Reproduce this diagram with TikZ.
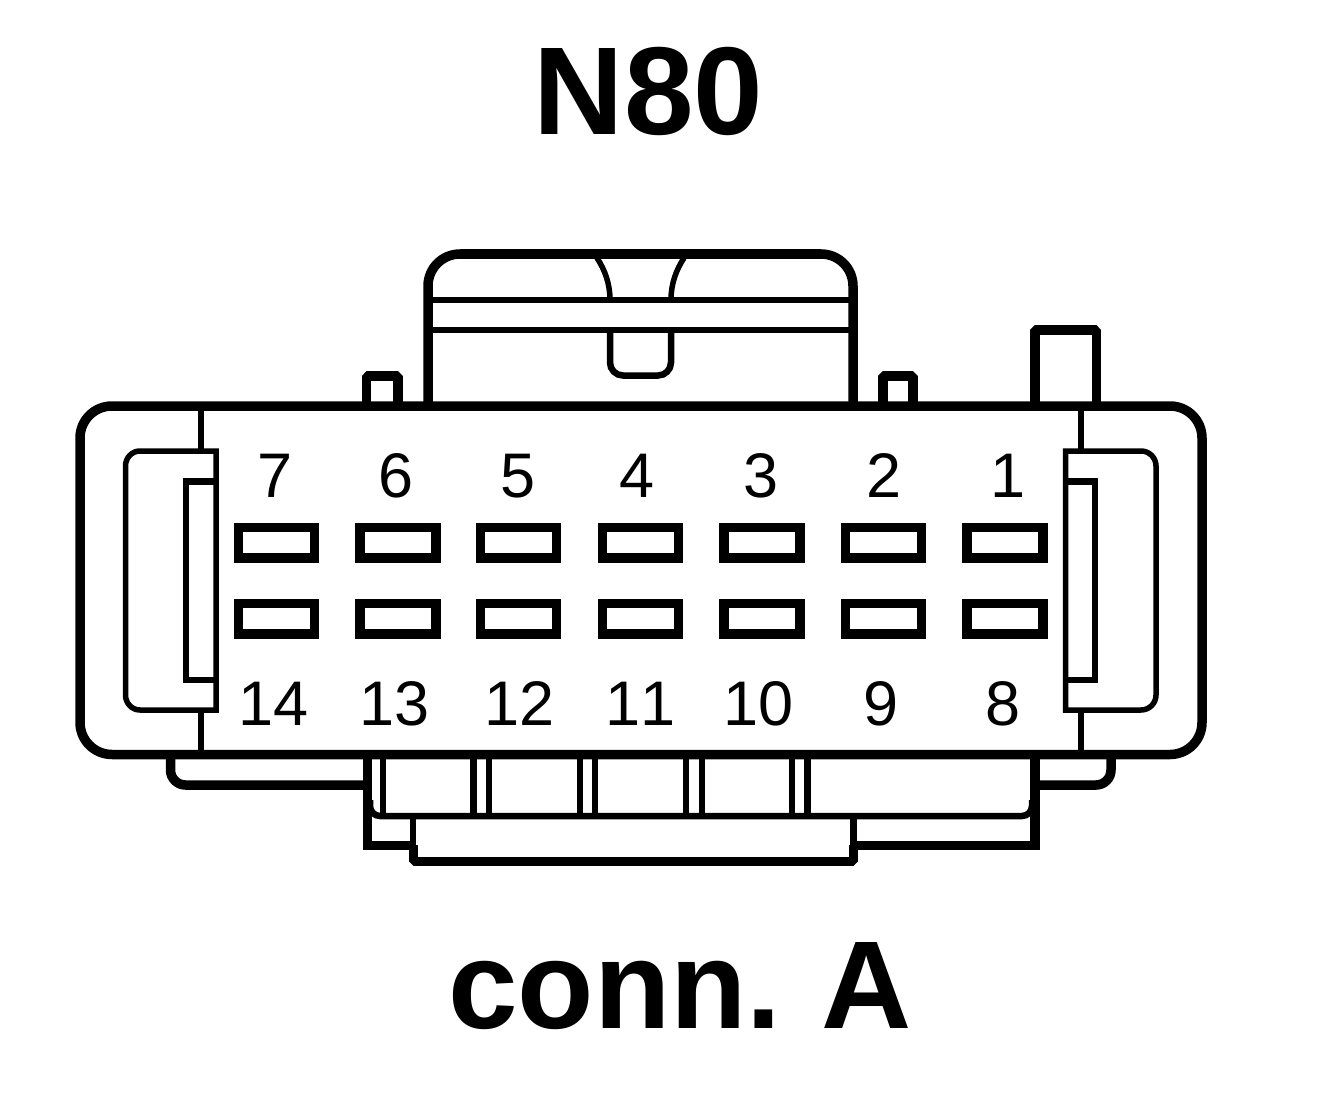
\documentclass[tikz,border=0pt]{standalone}
\usepackage{fontspec}
\setmainfont[Kerning=Off]{Liberation Sans}
\tikzset{
	heavy/.style={draw=black, line width=9.5pt},
	medium/.style={draw=black, line width=6.5pt},
	light/.style={draw=black, line width=5.5pt},
	pinbox/.style={rectangle, draw=black, line width=9.5pt, fill=white, inner sep=0pt, outer sep=0pt, minimum height=30.5pt, minimum width=76pt},
	pinlabel/.style={inner sep=0pt, anchor=base, font=\fontsize{63}{63}\selectfont},
	caption/.style={inner sep=0pt, anchor=base, font=\bfseries\fontsize{125}{125}\selectfont}
}
\begin{document}
\begin{tikzpicture}[x=1pt, y=-1pt]

\useasboundingbox (0,0) rectangle (1344,1118);

\node at (648.5,135) [caption] (title) {N80};
\node at (680,1028) [caption] (conn) {conn.\ \kern5pt A};

%% handle on top
\draw[heavy, rounded corners=32pt] (428,406) -- (428,254) -- (853,254) -- (853,406);
\draw[medium] (428,300) -- (853,300);
\draw[medium] (428,330) -- (853,330);
\draw[light] (597,258) .. controls (605,270) and (610,284) .. (610,300);
\draw[light] (684,258) .. controls (676,270) and (671,284) .. (671,300);
\draw[medium, rounded corners=13pt] (610,330) -- (610,375.5) -- (671,375.5) -- (671,330);

%% small tabs and post
\draw[heavy, line join=bevel] (366.5,406) -- (366.5,376) -- (398,376) -- (398,406);
\draw[heavy, line join=bevel] (883,406) -- (883,376) -- (913,376) -- (913,406);
\draw[heavy, line join=bevel] (1035,406) -- (1035,330) -- (1096.5,330) -- (1096.5,406);

%% body
\node at (80,406) [rectangle, heavy, rounded corners=32pt, minimum width=1122pt, minimum height=348.5pt, inner sep=0pt, outer sep=0pt, anchor=north west] (body) {};
\draw[light] (201,406) -- (201,451);
\draw[light] (201,710) -- (201,754);
\draw[light] (1081,406) -- (1081,451);
\draw[light] (1081,710) -- (1081,754);

%% latches
\draw[light] (216,451) -- (140,451) to[out=180, in=90] (125.5,466) -- (125.5,695) to[out=-90, in=180] (140,710) -- (216,710) -- cycle;
\draw[medium] (216,481.5) -- (186,481.5) -- (186,680) -- (216,680);
\draw[light] (1065.5,451) -- (1141,451) to[out=0, in=90] (1156,466) -- (1156,695) to[out=-90, in=0] (1141,710) -- (1065.5,710) -- cycle;
\draw[medium] (1065.5,481.5) -- (1095,481.5) -- (1095,680) -- (1065.5,680);

%% pins
\foreach \num/\xpos/\xtop/\xlow/\lab in {7/276.5/275/274/14, 6/398/396/395/13, 5/518.5/518/520/12, 4/640.5/637/641/11, 3/762/761/759/10, 2/883.5/884/881/9, 1/1005/1008/1003/8} {
	\node at (\xpos,542.5) [pinbox] (pinup\num) {};
	\node at (\xpos,618.5) [pinbox] (pindown\num) {};
	\node at (\xtop,497) [pinlabel] (labelup\num) {\num};
	\node at (\xlow,725) [pinlabel] (labeldown\num) {\lab};
}

%% lower part
\draw[heavy, rounded corners=15pt] (170.5,759) -- (170.5,785) -- (367.5,785);
\draw[heavy, rounded corners=15pt] (1111,759) -- (1111,785) -- (1035,785);
\draw[heavy] (367.5,759) -- (367.5,850);
\draw[heavy] (1035,759) -- (1035,850);
\draw[heavy] (363,845.5) -- (413,845.5);
\draw[heavy] (853,845.5) -- (1040,845.5);
\draw[medium] (383,759) -- (383,816);
\draw[medium, rounded corners=10pt] (370,800) -- (370,816) -- (1032,816) -- (1032,800);
\foreach \xa in {473.5, 489, 580, 595, 686, 702, 792, 807.5} {
	\draw[medium] (\xa,759) -- (\xa,816);
}
\draw[medium] (413,816) -- (413,846);
\draw[medium] (853.5,816) -- (853.5,846);
\draw[heavy, line join=bevel] (413.5,845) -- (413.5,861.5) -- (853.5,861.5) -- (853.5,845);

\end{tikzpicture}
\end{document}
